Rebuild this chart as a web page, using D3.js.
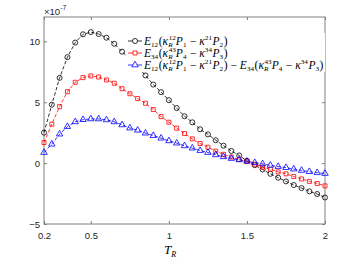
<!DOCTYPE html>
<html>
<head>
<meta charset="utf-8">
<script src="https://cdn.jsdelivr.net/npm/d3@7"></script>
<style>
  body { margin: 0; background: #fff; }
  svg { display: block; }
</style>
</head>
<body>
<div id="chart"></div>
<script>
// ----------------------------------------
// DATA (units of 1e-7)
// ----------------------------------------
const tR = [0.2, 0.25, 0.3, 0.35, 0.4, 0.45, 0.5, 0.55, 0.6, 0.65, 0.7, 0.75, 0.8, 0.85, 0.9, 0.95,
  1.0, 1.05, 1.1, 1.15, 1.2, 1.25, 1.3, 1.35, 1.4, 1.45, 1.5, 1.55, 1.6, 1.65, 1.7, 1.75,
  1.8, 1.85, 1.9, 1.95, 2.0];

const seriesE12 = [2.5, 4.8, 7.0, 8.7, 9.9, 10.58, 10.76, 10.6, 10.3, 9.8, 9.15, 8.55, 7.9, 7.2,
  6.45, 5.83, 5.17, 4.52, 3.85, 3.35, 2.78, 2.36, 1.88, 1.43, 1.0, 0.63, 0.19, -0.17, -0.52,
  -0.88, -1.2, -1.5, -1.8, -2.05, -2.32, -2.54, -2.82];

const seriesE34 = [1.69, 3.2, 4.64, 5.87, 6.64, 7.02, 7.16, 7.07, 6.83, 6.56, 6.11, 5.7, 5.3, 4.92,
  4.4, 3.82, 3.36, 2.87, 2.43, 1.99, 1.61, 1.31, 0.98, 0.72, 0.5, 0.3, 0.12, -0.1, -0.33,
  -0.5, -0.72, -0.88, -1.1, -1.3, -1.5, -1.67, -1.87];

const seriesDiff = [0.87, 1.56, 2.38, 3.0, 3.39, 3.57, 3.63, 3.63, 3.55, 3.39, 3.14, 2.88, 2.7, 2.46,
  2.26, 2.05, 1.83, 1.64, 1.42, 1.23, 1.03, 0.87, 0.68, 0.52, 0.38, 0.27, 0.15, 0.04, -0.06,
  -0.18, -0.28, -0.37, -0.49, -0.6, -0.7, -0.79, -0.85];

const xTicks = [0.2, 0.5, 1, 1.5, 2];
const yTicks = [-5, 0, 5, 10];

// ----------------------------------------
// SETUP
// ----------------------------------------
const width = 360, height = 274;
const margin = { top: 17, right: 35, bottom: 50, left: 44 };
const innerW = width - margin.left - margin.right;
const innerH = height - margin.top - margin.bottom;

const svg = d3.select("#chart")
  .append("svg")
  .attr("width", width)
  .attr("height", height);

const g = svg.append("g")
  .attr("transform", `translate(${margin.left},${margin.top})`);

const x = d3.scaleLinear().domain([0.2, 2]).range([0, innerW]);
const y = d3.scaleLinear().domain([-5, 12]).range([innerH, 0]);

const axisColor = "#808080";
const labelColor = "#262626";
const sansFont = "'Liberation Sans', Arial, sans-serif";
const serifFont = "'Liberation Serif', 'Times New Roman', serif";

// ----------------------------------------
// AXES (box with inward ticks)
// ----------------------------------------
function styleAxis(sel) {
  sel.select(".domain").remove();
  sel.selectAll(".tick line").attr("stroke", axisColor);
  sel.selectAll(".tick text")
    .attr("fill", labelColor)
    .style("font-family", sansFont)
    .style("font-size", "9.5px");
}

g.append("g")
  .attr("transform", `translate(0,${innerH})`)
  .call(d3.axisBottom(x).tickValues(xTicks).tickSize(-3).tickPadding(8).tickFormat(d3.format("")))
  .call(styleAxis);

g.append("g")
  .call(d3.axisTop(x).tickValues(xTicks).tickSize(-3).tickFormat(""))
  .call(styleAxis);

g.append("g")
  .call(d3.axisLeft(y).tickValues(yTicks).tickSize(-3).tickPadding(4))
  .call(styleAxis);

g.append("g")
  .attr("transform", `translate(${innerW},0)`)
  .call(d3.axisRight(y).tickValues(yTicks).tickSize(-3).tickFormat(""))
  .call(styleAxis);

g.append("rect")
  .attr("width", innerW)
  .attr("height", innerH)
  .attr("fill", "none")
  .attr("stroke", axisColor)
  .attr("stroke-width", 1);

// exponent label
const expo = svg.append("text")
  .attr("x", margin.left)
  .attr("y", 15)
  .attr("fill", labelColor)
  .style("font-family", sansFont)
  .style("font-size", "9.5px");
expo.append("tspan").text("×10");
expo.append("tspan").attr("dy", -5).style("font-size", "7px").text("-7");

// ----------------------------------------
// MATH TEXT HELPER
// ----------------------------------------
function drawMath(parent, x0, y0, tokens, size) {
  let cx = x0;
  const subSize = size * 0.62;
  tokens.forEach(t => {
    if (t.s !== undefined) {
      const el = parent.append("text")
        .attr("x", cx).attr("y", y0)
        .attr("fill", "#000")
        .style("font-family", serifFont)
        .style("font-size", size + "px")
        .style("font-style", t.it ? "italic" : "normal")
        .attr("xml:space", "preserve")
        .text(t.s);
      cx += el.node().getComputedTextLength();
    } else {
      let w = 0;
      if (t.sub !== undefined) {
        const el = parent.append("text")
          .attr("x", cx).attr("y", y0 + size * 0.26)
          .style("font-family", serifFont)
          .style("font-size", subSize + "px")
          .style("font-style", t.subIt ? "italic" : "normal")
          .text(t.sub);
        w = Math.max(w, el.node().getComputedTextLength());
      }
      if (t.sup !== undefined) {
        const el = parent.append("text")
          .attr("x", cx + (t.sub !== undefined ? 0.5 : 0)).attr("y", y0 - size * 0.4)
          .style("font-family", serifFont)
          .style("font-size", subSize + "px")
          .text(t.sup);
        w = Math.max(w, el.node().getComputedTextLength());
      }
      cx += w + 0.6;
    }
  });
  return cx - x0;
}

const termA = [
  { s: "E", it: true }, { sub: "12" }, { s: "(" }, { s: "κ", it: true }, { sub: "R", subIt: true, sup: "12" },
  { s: "P", it: true }, { sub: "1" }, { s: " − " }, { s: "κ", it: true }, { sup: "21" },
  { s: "P", it: true }, { sub: "2" }, { s: ")" }
];
const termB = [
  { s: "E", it: true }, { sub: "34" }, { s: "(" }, { s: "κ", it: true }, { sub: "R", subIt: true, sup: "43" },
  { s: "P", it: true }, { sub: "4" }, { s: " − " }, { s: "κ", it: true }, { sup: "34" },
  { s: "P", it: true }, { sub: "3" }, { s: ")" }
];

// ----------------------------------------
// SERIES
// ----------------------------------------
const series = [
  { name: "E12", values: seriesE12, color: "#000000", marker: "circle", label: termA },
  { name: "E34", values: seriesE34, color: "#ff0000", marker: "square", label: termB },
  { name: "diff", values: seriesDiff, color: "#0000ff", marker: "triangle", label: termA.concat([{ s: " − " }], termB) }
];

const symbolFor = {
  circle: d3.symbol().type(d3.symbolCircle).size(20),
  square: d3.symbol().type(d3.symbolSquare).size(16),
  triangle: d3.symbol().type(d3.symbolTriangle).size(18)
};

const line = d3.line()
  .x(d => x(d.t))
  .y(d => y(d.v));

const plot = g.append("g");

series.forEach(s => {
  const pts = tR.map((t, i) => ({ t: t, v: s.values[i] }));

  plot.append("path")
    .datum(pts)
    .attr("fill", "none")
    .attr("stroke", s.color)
    .attr("stroke-width", 0.8)
    .attr("stroke-dasharray", "3.5,2")
    .attr("d", line);

  plot.selectAll(".m-" + s.name)
    .data(pts)
    .enter()
    .append("path")
    .attr("class", "m-" + s.name)
    .attr("transform", d => `translate(${x(d.t)},${y(d.v)})`)
    .attr("d", symbolFor[s.marker])
    .attr("fill", "none")
    .attr("stroke", s.color)
    .attr("stroke-width", 0.8);
});

// ----------------------------------------
// LEGEND (white background, no box)
// ----------------------------------------
const legend = svg.append("g");
legend.append("rect")
  .attr("x", 126).attr("y", 33)
  .attr("width", 199).attr("height", 39)
  .attr("fill", "#fff");

const rowY = [41, 53, 65];
series.forEach((s, i) => {
  legend.append("line")
    .attr("x1", 128).attr("x2", 142)
    .attr("y1", rowY[i]).attr("y2", rowY[i])
    .attr("stroke", s.color)
    .attr("stroke-width", 0.8);
  legend.append("path")
    .attr("transform", `translate(135,${rowY[i]})`)
    .attr("d", symbolFor[s.marker])
    .attr("fill", "#fff")
    .attr("stroke", s.color)
    .attr("stroke-width", 0.8);
  drawMath(legend, 144, rowY[i] + 3.5, s.label, 11.5);
});

// ----------------------------------------
// X LABEL
// ----------------------------------------
drawMath(svg.append("g"), 164, 254, [{ s: "T", it: true }, { sub: "R", subIt: true }], 13);
</script>
</body>
</html>
